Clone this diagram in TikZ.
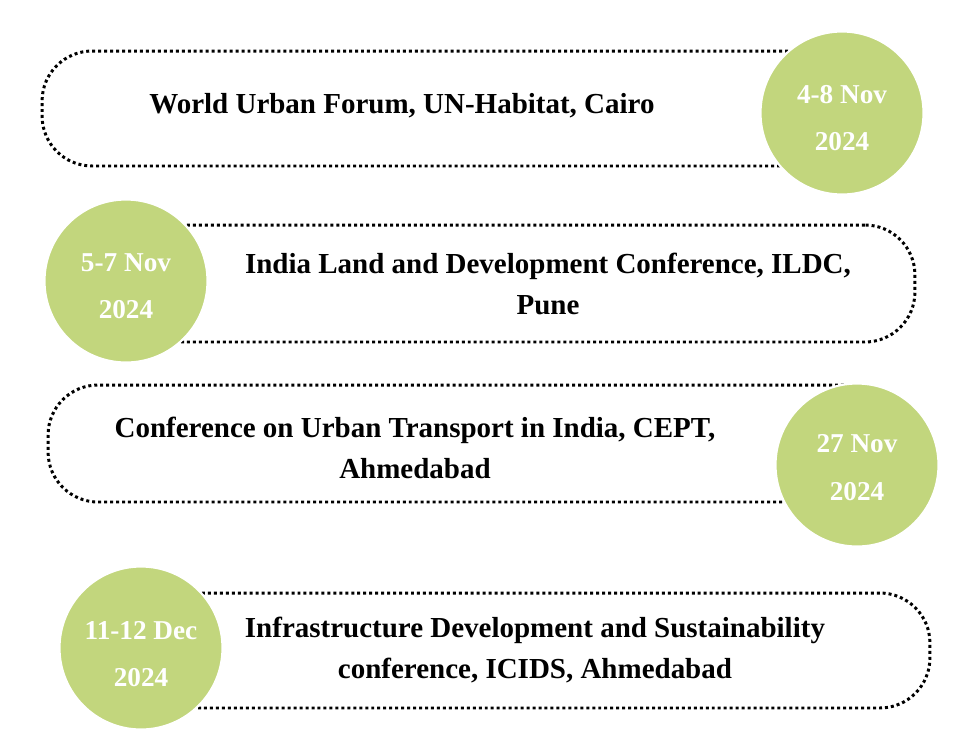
\documentclass[tikz,border=0pt]{standalone}
\usepackage{fontspec}
\setmainfont{Liberation Serif}
\usepackage{xcolor}
\usetikzlibrary{positioning}
\definecolor{leafgreen}{RGB}{194,214,125}
\tikzset{
  eventbox/.style={draw=black, rectangle, rounded corners=1cm, line width=1.7pt, dash pattern=on 1.7pt off 1.7pt, inner sep=0pt},
  datecircle/.style={circle, fill=leafgreen, draw=white, line width=1.2pt, minimum size=3.26cm, inner sep=0pt},
  datetext/.style={align=center, text=white, font=\bfseries\fontsize{15.5}{27}\selectfont},
  eventtext/.style={align=center, font=\bfseries\fontsize{16.5}{23}\selectfont}
}
\begin{document}
\begin{tikzpicture}[x=0.02cm, y=-0.02cm]
  \useasboundingbox[fill=white] (0,0) rectangle (970,755);
  \node [eventbox, minimum width=16.76cm, minimum height=2.3cm] (box1) at (461,108.5) {};
  \node [eventbox, minimum width=16.6cm, minimum height=2.34cm] (box2) at (500,283.5) {};
  \node [eventbox, minimum width=17.04cm, minimum height=2.34cm] (box3) at (474,443.5) {};
  \node [eventbox, minimum width=16.6cm, minimum height=2.3cm] (box4) at (515,650.5) {};
  \node [datecircle] (date1) at (842,113) {};
  \node [datecircle] (date2) at (126,281) {};
  \node [datecircle] (date3) at (857,465) {};
  \node [datecircle] (date4) at (141,648) {};
  \node [datetext, below=0.1cm of date1.center, anchor=center] (when1) {4-8 Nov\\2024};
  \node [datetext, below=0.1cm of date2.center, anchor=center] (when2) {5-7 Nov\\2024};
  \node [datetext, below=0.05cm of date3.center, anchor=center] (when3) {27 Nov\\2024};
  \node [datetext, below=0.12cm of date4.center, anchor=center] (when4) {11-12 Dec\\2024};
  \node [eventtext] (event1) at (402,106) {World Urban Forum, UN-Habitat, Cairo};
  \node [eventtext] (event2) at (548,284) {India Land and Development Conference, ILDC,\\Pune};
  \node [eventtext] (event3) at (415,448) {Conference on Urban Transport in India, CEPT,\\Ahmedabad};
  \node [eventtext] (event4) at (535,650) {Infrastructure Development and Sustainability\\conference, ICIDS, Ahmedabad};
\end{tikzpicture}
\end{document}
